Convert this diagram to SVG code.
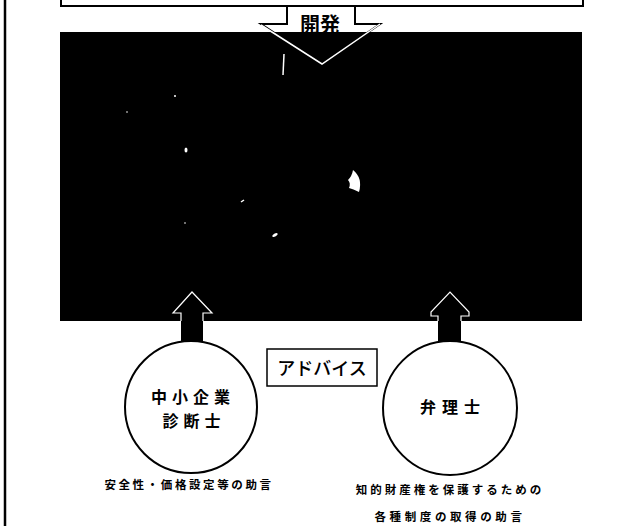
<svg xmlns="http://www.w3.org/2000/svg" width="630" height="526" viewBox="0 0 630 526">
<style>
.jp{font-family:"Noto Sans CJK JP","Noto Sans CJK SC",sans-serif;font-weight:bold;fill:#000}
.ln{fill:none;stroke:#000;stroke-width:2}
.circ{fill:#fff;stroke:#000;stroke-width:2}
.wl{fill:none;stroke:#fff;stroke-width:1.5}
</style>
<rect width="630" height="526" fill="#fff"/>
<line x1="5" y1="0" x2="5" y2="526" stroke="#000" stroke-width="2.5"/>
<g id="top-box">
<rect x="61" y="-10" width="522" height="16" class="ln"/>
</g>
<g id="develop-arrow">
<polygon points="287,6 355,6 355,24 380,24 322,64 261,24 287,24" fill="#fff" stroke="#000" stroke-width="2"/>
</g>
<g id="photo">
<rect x="60" y="32" width="522" height="289" fill="#000"/>
<polyline points="261,25 322,64 380,24" class="wl" stroke-width="2"/>
<path d="M284,54 L283,75" class="wl"/>
<path d="M353,170 q10,8 6,22 q-6,-3 -10,-4 q2,-5 -1,-8 q4,-4 5,-10z" fill="#fff"/>
<ellipse cx="186" cy="150" rx="1.5" ry="2.5" fill="#fff"/>
<ellipse cx="275" cy="235" rx="3" ry="1.5" fill="#fff" transform="rotate(-30 275 235)"/>
<path d="M241,202 l3,-2" class="wl"/>
<circle cx="175" cy="96" r="1" fill="#fff"/>
<circle cx="127" cy="112" r="0.8" fill="#fff"/>
<circle cx="185" cy="223" r="0.8" fill="#fff"/>
</g>
<g id="connectors">
<polygon points="181,340 181,313 173,313 192,292 212,313 203,313 203,340" fill="#000" stroke="#fff" stroke-width="1.2"/>
<polygon points="438,340 438,316 431,316 431,312 450,292 469,312 469,316 461,316 461,340" fill="#000" stroke="#fff" stroke-width="1.2"/>
<rect x="181" y="321" width="22" height="20" fill="#000"/>
<rect x="438" y="321" width="23" height="20" fill="#000"/>
</g>
<text class="jp" x="320" y="32" font-size="20" text-anchor="middle">開発</text>
<g id="advice">
<rect x="267" y="349" width="110" height="37" fill="#fff" stroke="#000" stroke-width="1.5"/>
<text class="jp" x="322" y="375" font-size="18" text-anchor="middle" style="font-weight:500">アドバイス</text>
</g>
<g id="shindanshi">
<circle cx="191" cy="407" r="66" class="circ"/>
<text class="jp" x="193" y="403" font-size="16" text-anchor="middle" letter-spacing="5">中小企業</text>
<text class="jp" x="194" y="427" font-size="16" text-anchor="middle" letter-spacing="5">診断士</text>
</g>
<g id="benrishi">
<circle cx="450" cy="408" r="67" class="circ"/>
<text class="jp" x="453" y="413" font-size="16" text-anchor="middle" letter-spacing="6">弁理士</text>
</g>
<g id="captions">
<text class="jp" x="189" y="489" font-size="11.5" text-anchor="middle" letter-spacing="2.6">安全性・価格設定等の助言</text>
<text class="jp" x="450" y="494" font-size="11.5" text-anchor="middle" letter-spacing="3">知的財産権を保護するための</text>
<text class="jp" x="450" y="521" font-size="11.5" text-anchor="middle" letter-spacing="3.6">各種制度の取得の助言</text>
</g>
</svg>
